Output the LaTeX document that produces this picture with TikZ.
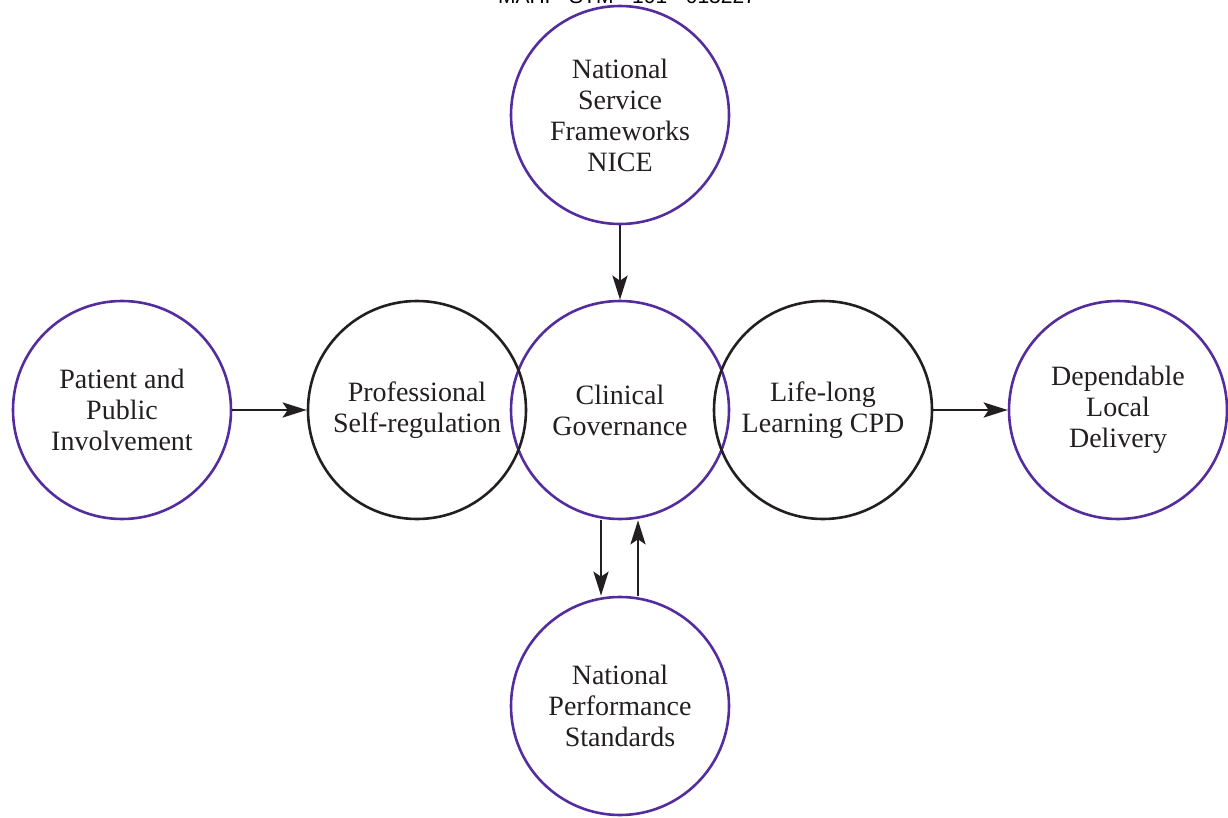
\documentclass[tikz,border=0pt]{standalone}
\usepackage{fontspec}
\setmainfont{Liberation Serif}
\newfontfamily\hdrfont{Liberation Sans}
\usetikzlibrary{arrows.meta}
\definecolor{ringpurple}{RGB}{84,44,158}
\definecolor{ringblack}{RGB}{35,31,32}
\tikzset{
  x=1pt,y=-1pt,
  ring/.style={circle,draw=ringpurple,line width=2.6pt,minimum size=218pt,inner sep=0pt,align=center,
    font=\fontsize{28}{31}\selectfont,text=ringblack},
  blackring/.style={ring,draw=ringblack},
  flow/.style={draw=ringblack,line width=2.8pt,-{Stealth[length=24pt,width=15pt,inset=5pt]}},
}
\begin{document}
\begin{tikzpicture}
\useasboundingbox (0,0) rectangle (1228,818);
\node[font=\hdrfont\fontsize{21}{24}\selectfont,text=black] (hdr) at (627,-4) {MAHI - STM - 101 - 013227};
\node[ring] (nsf) at (620,115) {National\\Service\\Frameworks\\NICE};
\node[ring] (cg) at (620,410) {Clinical\\Governance};
\node[blackring] (psr) at (417,410) {Professional\\Self-regulation};
\node[blackring] (llc) at (823,410) {Life-long\\Learning CPD};
\node[ring] (ppi) at (122,410) {Patient and\\Public\\Involvement};
\node[ring] (dld) at (1118,410) {Dependable\\Local\\Delivery};
\node[ring] (nps) at (620,706) {National\\Performance\\Standards};
\draw[flow] (nsf) -- (cg);
\draw[flow] (ppi) -- (psr);
\draw[flow] (llc) -- (dld);
\draw[flow] ([xshift=-19pt]cg.south) -- ([xshift=-19pt]nps.north);
\draw[flow] ([xshift=18pt]nps.north) -- ([xshift=18pt]cg.south);
\end{tikzpicture}
\end{document}
